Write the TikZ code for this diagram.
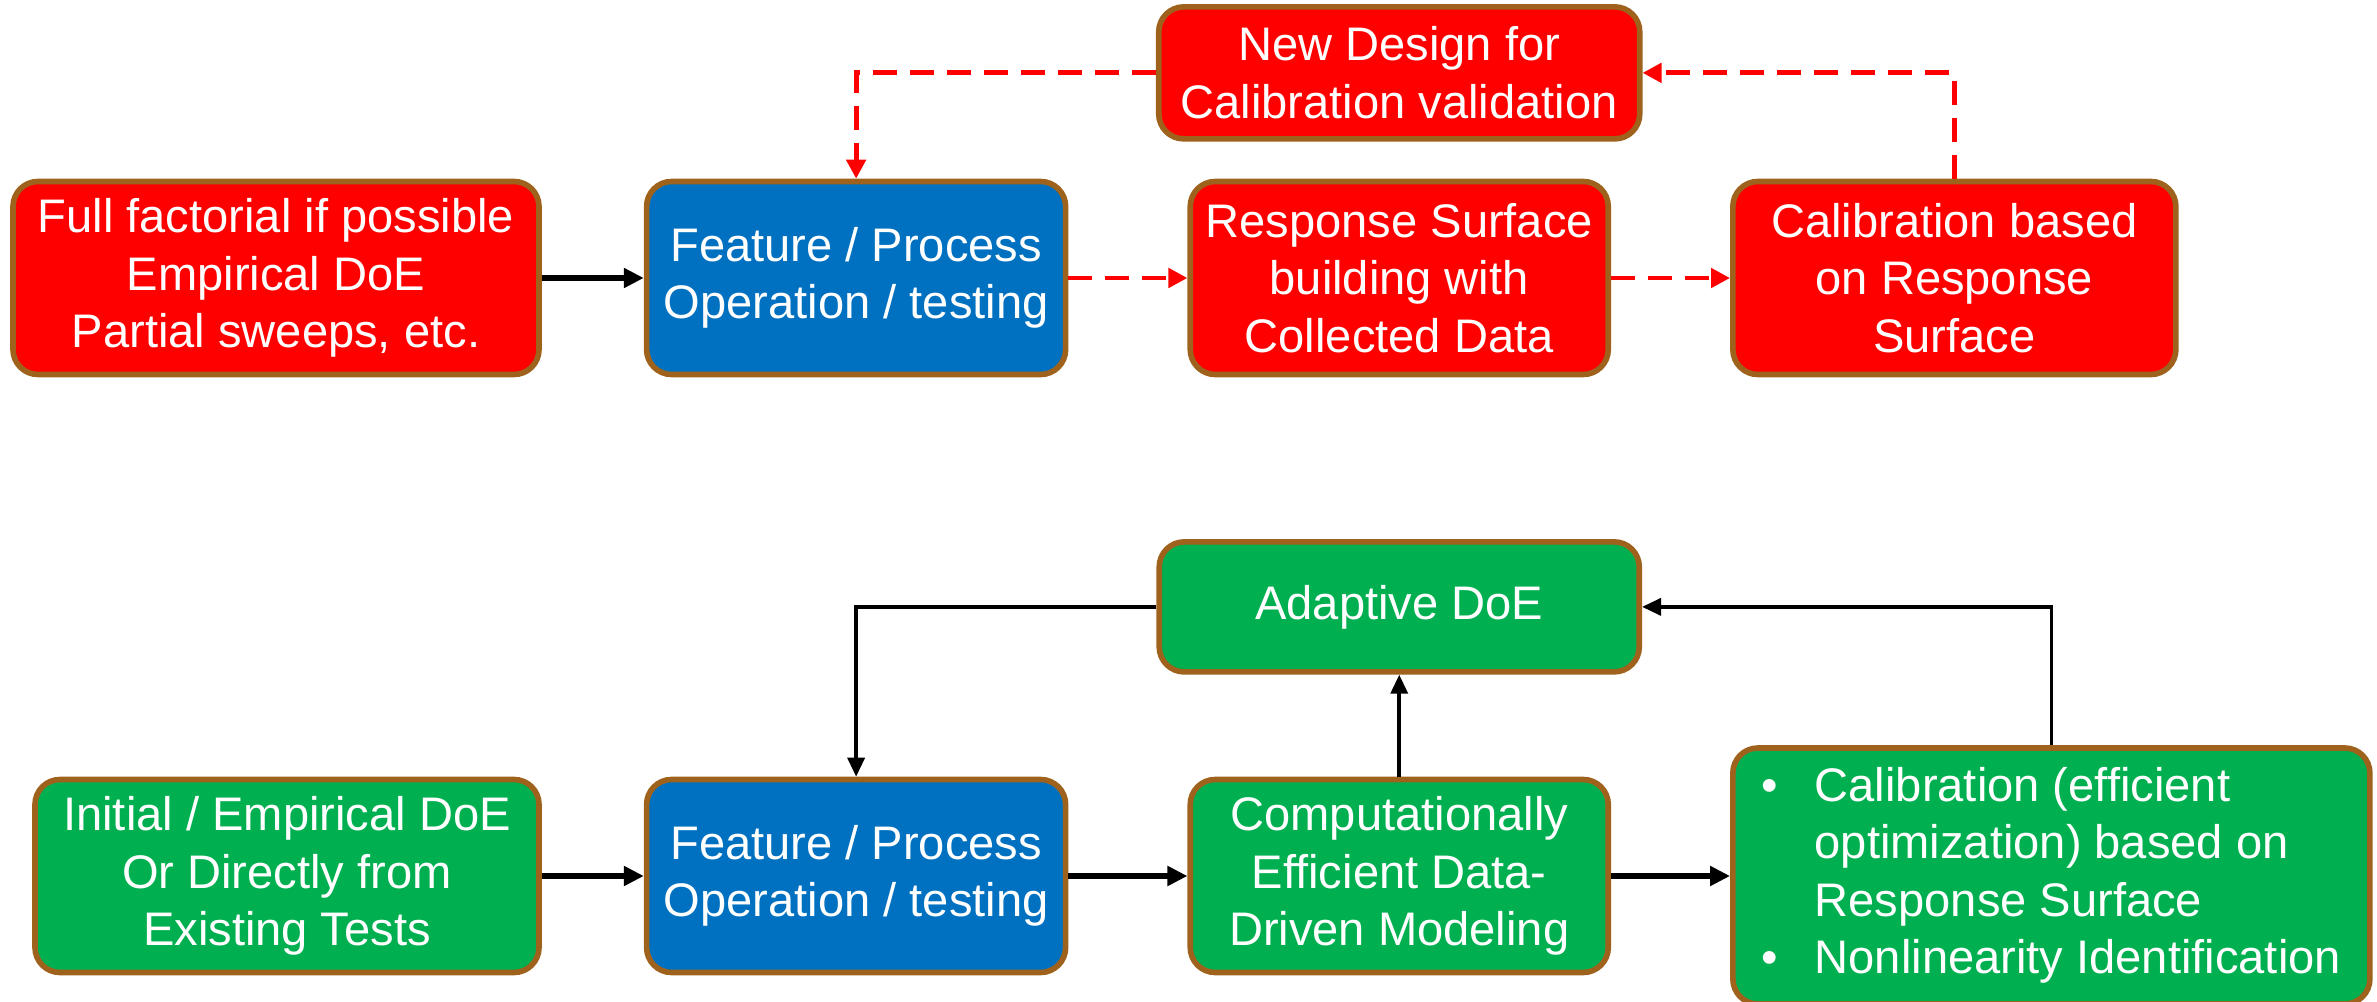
\documentclass[tikz,border=0pt]{standalone}
\usepackage{fontspec}
\setmainfont{Liberation Sans}
\usetikzlibrary{arrows.meta,positioning}
\definecolor{rim}{RGB}{158,98,28}
\definecolor{empred}{RGB}{255,0,0}
\definecolor{testblue}{RGB}{0,112,192}
\definecolor{adgreen}{RGB}{0,176,80}

\begin{document}
\begin{tikzpicture}[
    box/.style={draw=rim,line width=1.6pt,rounded corners=0.25cm,text=white,align=center,
      minimum height=1.93cm,inner sep=0.1cm,font=\fontsize{13.4}{16.4}\selectfont},
    stage/.style={box,fill=empred},
    test/.style={box,fill=testblue,minimum width=4.19cm},
    model/.style={box,fill=adgreen},
    flow/.style={line width=1.5pt,-{Triangle[length=0.2cm,width=0.19cm]}},
    back/.style={line width=1.0pt,-{Triangle[length=0.19cm,width=0.17cm]}},
    redflow/.style={empred,line width=1.4pt,dash pattern=on 0.24cm off 0.13cm,
      -{Triangle[length=0.19cm,width=0.19cm]}},
  ]
  \useasboundingbox (0,0) rectangle (23.77,-10.02);
  %
  % empirical calibration loop
  \node (full) [stage,minimum width=5.26cm] at (2.76,-2.78)
    {Full factorial if possible\\Empirical DoE\\Partial sweeps, etc.};
  \node (feat) [test,right=1.02cm of full] {Feature / Process\\Operation / testing};
  \node (resp) [stage,minimum width=4.18cm,right=1.19cm of feat]
    {Response Surface\\building with\\Collected Data};
  \node (calib) [stage,minimum width=4.43cm,right=1.19cm of resp]
    {Calibration based\\on Response\\Surface};
  \node (newdes) [stage,minimum width=4.81cm,minimum height=1.32cm,above=0.37cm of resp]
    {New Design for\\Calibration validation};
  %
  \draw[flow] (full) -- (feat);
  \draw[redflow] (feat) -- (resp);
  \draw[redflow] (resp) -- (calib);
  \draw[redflow] (calib.north) |- (newdes.east);
  \draw[redflow] (newdes.west) -| (feat.north);
  %
  % data-driven loop
  \node (init) [model,minimum width=5.04cm] at (2.87,-8.76)
    {Initial / Empirical DoE\\Or Directly from\\Existing Tests};
  \node (feat2) [test,right=1.02cm of init] {Feature / Process\\Operation / testing};
  \node (comp) [model,minimum width=4.18cm,right=1.19cm of feat2]
    {Computationally\\Efficient Data-\\Driven Modeling};
  \node (calib2) [model,minimum width=6.37cm,minimum height=2.56cm,right=1.19cm of comp]
    {\begin{tabular}{@{}p{0.53cm}@{}l@{}}
      \textbullet & Calibration (efficient\\
                  & optimization) based on\\
                  & Response Surface\\
      \textbullet & Nonlinearity Identification
    \end{tabular}};
  \node (adapt) [model,minimum width=4.8cm,minimum height=1.3cm,above=1.02cm of comp]
    {Adaptive DoE};
  %
  \draw[flow] (init) -- (feat2);
  \draw[flow] (feat2) -- (comp);
  \draw[flow] (comp) -- (calib2);
  \draw[back] (comp) -- (adapt);
  \draw[back] (calib2.north) |- (adapt.east);
  \draw[back] (adapt.west) -| (feat2.north);
\end{tikzpicture}
\end{document}
